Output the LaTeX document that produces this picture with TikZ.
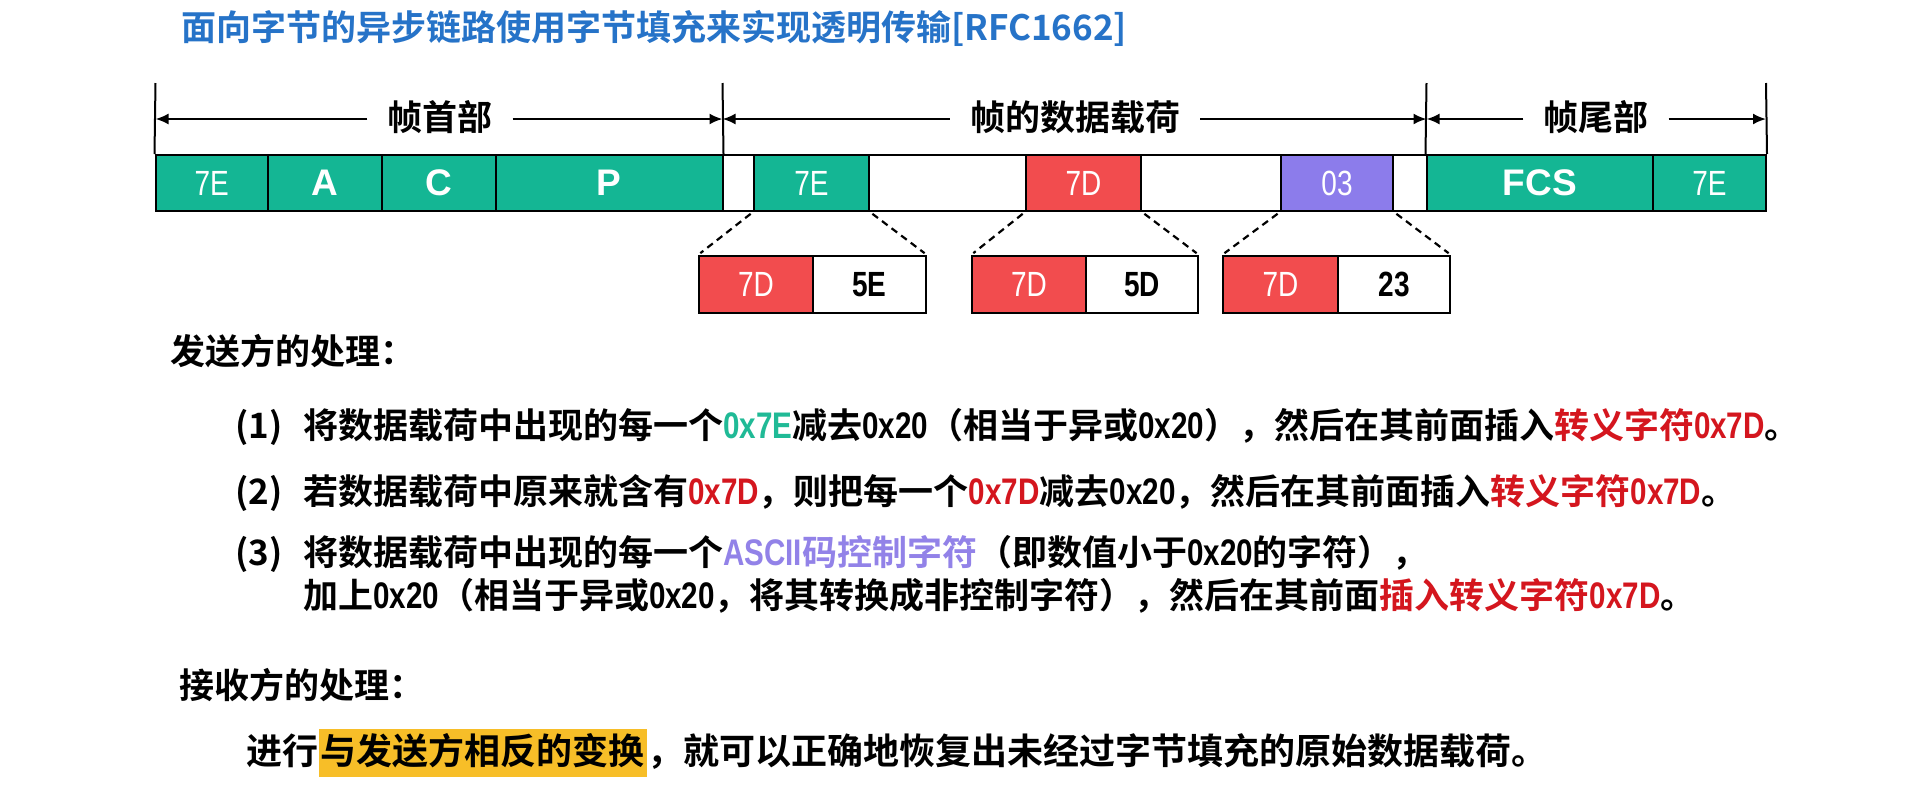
\documentclass[tikz,border=0pt]{standalone}
\usepackage{fontspec}
\usetikzlibrary{arrows.meta}
\setmainfont{Noto Sans CJK SC}[BoldFont={* Bold}]
\newfontfamily\narrowf[FakeStretch=0.8]{Liberation Sans}
\newfontfamily\latinf[FakeStretch=0.8]{Liberation Sans}
\newfontfamily\arialf{Liberation Sans}
\definecolor{teal1}{RGB}{20,182,148}
\definecolor{red1}{RGB}{242,76,78}
\definecolor{purp1}{RGB}{140,124,235}
\definecolor{titleblue}{RGB}{38,115,200}
\definecolor{redtxt}{RGB}{212,22,30}
\definecolor{tealtxt}{RGB}{32,186,150}
\definecolor{purptxt}{RGB}{146,130,232}
\definecolor{hl}{RGB}{247,190,40}
\newcommand{\tealt}[1]{\textcolor{tealtxt}{#1}}
\newcommand{\redt}[1]{\textcolor{redtxt}{#1}}
\newcommand{\purpt}[1]{\textcolor{purptxt}{#1}}
\newcommand{\ltn}[1]{{\latinf\bfseries\fontsize{37}{42}\selectfont #1}}
\begin{document}
\begin{tikzpicture}[x=1pt,y=-1pt,
  cell/.style={draw=black, line width=2pt, minimum height=56pt, inner sep=0, font=\narrowf\fontsize{35}{40}\selectfont, text=white},
  boldcell/.style={cell, font=\arialf\bfseries\fontsize{37}{40}\selectfont},
  blackcell/.style={cell, fill=white, text=black, font=\narrowf\bfseries\fontsize{35}{40}\selectfont},
  txt/.style={anchor=west, inner sep=0, text height=29pt, text depth=6pt, font=\bfseries\fontsize{35}{42}\selectfont},
  bigtxt/.style={txt, font=\bfseries\fontsize{36}{42}\selectfont},
  lbl/.style={inner ysep=0, inner xsep=20pt, text height=29pt, text depth=6pt, font=\bfseries\fontsize{35}{42}\selectfont},
  arr/.style={line width=2pt, -{Latex[length=13pt,width=11pt]}},
  vline/.style={line width=2pt},
  dashln/.style={line width=2.2pt, dash pattern=on 7pt off 5pt, shorten <=3pt, shorten >=3pt}
]
\useasboundingbox[fill=white] (0,0) rectangle (1920,804);

% title
\node[anchor=west, inner sep=0, font=\bfseries\fontsize{35}{42}\selectfont, text=titleblue] (title) at (181,28) {面向字节的异步链路使用字节填充来实现透明传输[RFC1662]};

% frame cells
\node[cell, fill=teal1, minimum width=112.5pt] (h1) at (211.75,183) {7E};
\node[boldcell, fill=teal1, minimum width=114pt] (hA) at (325,183) {A};
\node[boldcell, fill=teal1, minimum width=114pt] (hC) at (439,183) {C};
\node[boldcell, fill=teal1, minimum width=226.5pt] (hP) at (609.25,183) {P};
\node[cell, fill=white, minimum width=31.5pt] (g1) at (738.25,183) {};
\node[cell, fill=teal1, minimum width=115pt] (p7E) at (811.5,183) {7E};
\node[cell, fill=white, minimum width=157pt] (g2) at (947.5,183) {};
\node[cell, fill=red1, minimum width=115pt] (p7D) at (1083.5,183) {7D};
\node[cell, fill=white, minimum width=140pt] (g3) at (1211,183) {};
\node[cell, fill=purp1, minimum width=112pt] (p03) at (1337,183) {03};
\node[cell, fill=white, minimum width=33.5pt] (g4) at (1409.75,183) {};
\node[boldcell, fill=teal1, minimum width=226.5pt] (fcs) at (1539.75,183) {FCS};
\node[cell, fill=teal1, minimum width=113pt] (t7E) at (1709.5,183) {7E};

% vertical delimiters
\coordinate (v1) at (155.5,83);
\coordinate (v2) at (722.5,83);
\coordinate (v3) at (1426.5,83);
\coordinate (v4) at (1766,83);
\draw[vline] (v1) -- (h1.north west);
\draw[vline] (v2) -- (hP.north east);
\draw[vline] (v3) -- (fcs.north west);
\draw[vline] (v4) -- (t7E.north east);

% span labels and arrows
\coordinate (a1) at (155.5,119);
\coordinate (a2) at (722.5,119);
\coordinate (a3) at (1426.5,119);
\coordinate (a4) at (1766,119);
\node[lbl] (lh) at (440,119) {帧首部};
\node[lbl] (lp) at (1075,119) {帧的数据载荷};
\node[lbl] (lt) at (1596,119) {帧尾部};
\draw[arr] (lh.west) -- (a1);
\draw[arr] (lh.east) -- (a2);
\draw[arr] (lp.west) -- (a2);
\draw[arr] (lp.east) -- (a3);
\draw[arr] (lt.west) -- (a3);
\draw[arr] (lt.east) -- (a4);

% stuffed byte pairs
\node[cell, fill=red1, minimum width=114pt, minimum height=57pt] (b1a) at (756,284.5) {7D};
\node[blackcell, minimum width=113pt, minimum height=57pt] (b1b) at (869.5,284.5) {5E};
\node[cell, fill=red1, minimum width=114pt, minimum height=57pt] (b2a) at (1029,284.5) {7D};
\node[blackcell, minimum width=112pt, minimum height=57pt] (b2b) at (1142,284.5) {5D};
\node[cell, fill=red1, minimum width=115pt, minimum height=57pt] (b3a) at (1280.5,284.5) {7D};
\node[blackcell, minimum width=112pt, minimum height=57pt] (b3b) at (1394,284.5) {23};

\draw[dashln] (p7E.south west) -- (b1a.north west);
\draw[dashln] (p7E.south east) -- (b1b.north east);
\draw[dashln] (p7D.south west) -- (b2a.north west);
\draw[dashln] (p7D.south east) -- (b2b.north east);
\draw[dashln] (p03.south west) -- (b3a.north west);
\draw[dashln] (p03.south east) -- (b3b.north east);

% sender text
\node[txt] (s0) at (170,353) {发送方的处理：};
\node[txt] (n1) at (235,427) {(1)};
\node[txt] (s1) at (303,427) {将数据载荷中出现的每一个\tealt{\ltn{0x7E}}减去\ltn{0x20}（相当于异或\ltn{0x20}），然后在其前面插入\redt{转义字符\ltn{0x7D}}。};
\node[txt] (n2) at (235,493) {(2)};
\node[txt] (s2) at (303,493) {若数据载荷中原来就含有\redt{\ltn{0x7D}}，则把每一个\redt{\ltn{0x7D}}减去\ltn{0x20}，然后在其前面插入\redt{转义字符\ltn{0x7D}}。};
\node[txt] (n3) at (235,554) {(3)};
\node[txt] (s3) at (303,554) {将数据载荷中出现的每一个\purpt{\ltn{ASCII}码控制字符}（即数值小于\ltn{0x20}的字符），};
\node[txt] (s3b) at (303,597) {加上\ltn{0x20}（相当于异或\ltn{0x20}，将其转换成非控制字符），然后在其前面\redt{插入转义字符\ltn{0x7D}}。};

% receiver text
\node[txt] (r0) at (179,687) {接收方的处理：};
\node[bigtxt] (r1) at (246,753) {进行};
\node[bigtxt, fill=hl, inner xsep=2pt, inner ysep=6.5pt] (r2) at (r1.east) {与发送方相反的变换};
\node[bigtxt] (r3) at (r2.east) {，就可以正确地恢复出未经过字节填充的原始数据载荷。};
\end{tikzpicture}
\end{document}
